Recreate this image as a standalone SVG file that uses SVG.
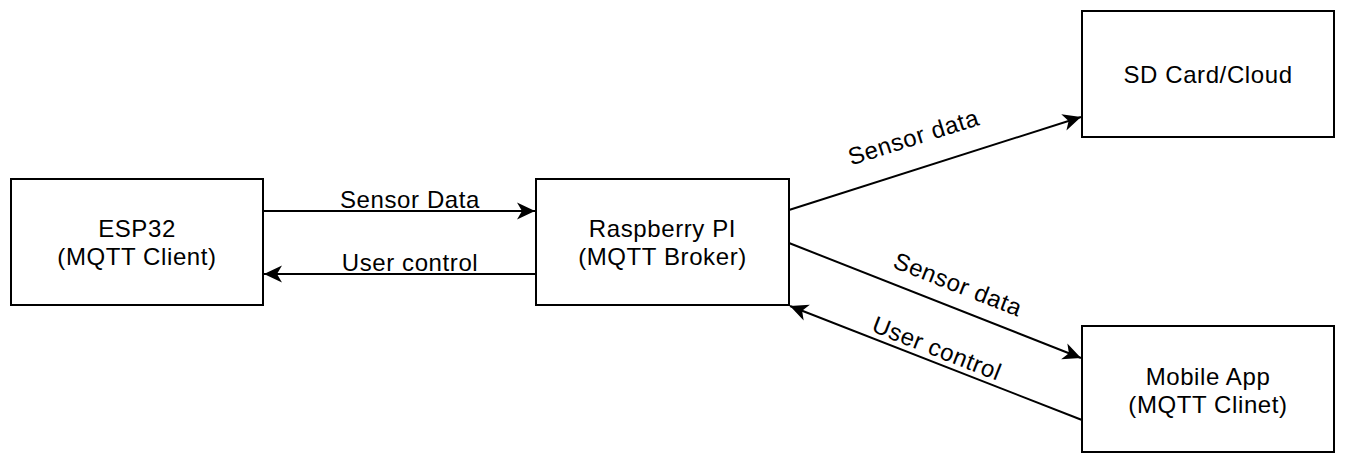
<svg xmlns="http://www.w3.org/2000/svg" width="1346" height="464" viewBox="0 0 1346 464">
<style>
  .box { fill: #ffffff; stroke: #000000; stroke-width: 2; }
  .lbl { font-family: "Liberation Sans", Arial, sans-serif; font-size: 24px; letter-spacing: 0.6px; fill: #000000; text-anchor: middle; }
  .edge { fill: none; stroke: #000000; stroke-width: 2; marker-end: url(#arr); }
</style>
<defs>
  <marker id="arr" markerUnits="userSpaceOnUse" viewBox="-20 -10 22 20" markerWidth="22" markerHeight="20" refX="0" refY="0" orient="auto">
    <path d="M0,0 L-18,-8.5 L-13,0 L-18,8.5 Z" fill="#000000"/>
  </marker>
</defs>
<rect width="1346" height="464" fill="#ffffff"/>
<g id="connectors">
  <line class="edge" x1="263" y1="211" x2="535" y2="211"/>
  <line class="edge" x1="536" y1="274" x2="264" y2="274"/>
  <line class="edge" x1="789" y1="210" x2="1081" y2="117"/>
  <line class="edge" x1="789" y1="243" x2="1081" y2="358"/>
  <line class="edge" x1="1082" y1="420" x2="790" y2="306"/>
  <text class="lbl" x="410" y="208">Sensor Data</text>
  <text class="lbl" x="410" y="271">User control</text>
  <text class="lbl" x="0" y="0" transform="translate(916,145) rotate(-17.5)">Sensor data</text>
  <text class="lbl" x="0" y="0" transform="translate(955,292) rotate(21.4)">Sensor data</text>
  <text class="lbl" x="0" y="0" transform="translate(934,356) rotate(21.4)">User control</text>
</g>
<g id="esp32">
  <rect class="box" x="11" y="179" width="252" height="126"/>
  <text class="lbl" x="137" y="237">ESP32</text>
  <text class="lbl" x="137" y="265">(MQTT Client)</text>
</g>
<g id="raspberry">
  <rect class="box" x="536" y="179" width="253" height="126"/>
  <text class="lbl" x="662.5" y="237">Raspberry PI</text>
  <text class="lbl" x="662.5" y="265">(MQTT Broker)</text>
</g>
<g id="sdcard">
  <rect class="box" x="1082" y="11" width="252" height="126"/>
  <text class="lbl" x="1208" y="83">SD Card/Cloud</text>
</g>
<g id="mobile">
  <rect class="box" x="1082" y="326" width="252" height="126"/>
  <text class="lbl" x="1208" y="385">Mobile App</text>
  <text class="lbl" x="1208" y="413">(MQTT Clinet)</text>
</g>
</svg>
